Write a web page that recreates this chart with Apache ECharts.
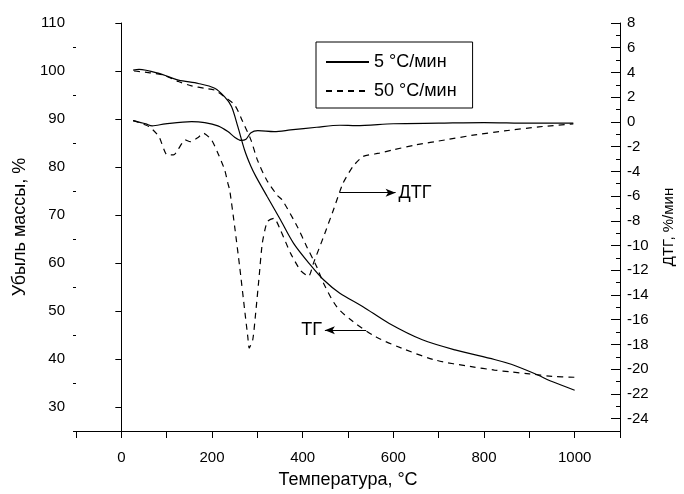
<!DOCTYPE html>
<html><head><meta charset="utf-8">
<script src="https://cdn.jsdelivr.net/npm/echarts@6/dist/echarts.min.js"></script>
<style>html,body{margin:0;padding:0;background:#fff}#c{width:684px;height:494px}</style>
</head><body><div id="c"></div>
<script>
const names = ['5 °C/мин', '50 °C/мин'];
const tg5 = [[26,100.2],[39,100.35],[83,99.5],[126,98.1],[170,97.4],[206,96.4],[228,94.6],[243,92.6],[257,88.4],[272,83.5],[286,80.1],[297,78],[322,73.8],[351,69],[380,64.1],[417,59.6],[446,56.5],[482,53.7],[533,50.9],[591,47.4],[664,44],[736,41.9],[823,39.9],[860,38.9],[890,37.8],[920,36.6],[950,35.3],[1000,33.5]];
const tg50 = [[28,100],[90,99.2],[126,97.8],[155,96.9],[184,96.4],[206,96],[228,94.6],[250,92.9],[268,89.4],[286,85.6],[300,81.5],[320,77.4],[344,74.1],[355,73.1],[388,67.6],[409,63.4],[431,59.2],[446,55.8],[475,50.9],[511,47.8],[562,44.6],[620,42.2],[692,39.8],[772,38.4],[823,37.7],[860,37.3],[900,36.9],[950,36.4],[1000,36.2]];
const dtg5 = [[26,0.1],[54,-0.16],[68,-0.32],[97,-0.16],[155,0.02],[184,-0.06],[213,-0.32],[235,-0.78],[250,-1.24],[264,-1.5],[275,-1.4],[286,-0.87],[301,-0.7],[337,-0.78],[373,-0.65],[431,-0.43],[482,-0.27],[518,-0.3],[600,-0.15],[700,-0.1],[800,-0.05],[900,-0.1],[997,-0.1]];
const dtg50 = [[26,0.1],[61,-0.38],[83,-1.19],[101,-2.67],[115,-2.67],[141,-1.46],[152,-1.6],[170,-1.24],[181,-0.91],[199,-1.46],[213,-2.53],[228,-3.88],[235,-4.96],[239,-5.5],[250,-8.47],[261,-11.7],[272,-15.2],[279,-17.4],[282,-18.3],[290,-17.6],[297,-15.2],[304,-12.5],[311,-9.8],[322,-8.07],[337,-7.8],[351,-8.74],[373,-10.6],[395,-12],[413,-12.5],[424,-11.4],[446,-9.3],[468,-7.1],[489,-4.96],[511,-3.6],[533,-2.8],[569,-2.53],[598,-2.27],[649,-1.86],[714,-1.46],[780,-1.05],[845,-0.73],[921,-0.4],[997,-0.16]];
const xLabels = [0,200,400,600,800,1000];
const leftLabels = [30,40,50,60,70,80,90,100,110];
const rightLabels = [-24,-22,-20,-18,-16,-14,-12,-10,-8,-6,-4,-2,0,2,4,6,8];
const leftMinor = [25,35,45,55,65,75,85,95,105];
const rightMinor = [-25,-23,-21,-19,-17,-15,-13,-11,-9,-7,-5,-3,-1,1,3,5,7];
const dtgArrow = [[481,-5.72],[605,-5.72]];
const tgArrow = [[540,46.0],[449,46.0]];

const F = 'Liberation Sans, Arial, sans-serif';
const black = '#000';
const solid = {color: black, width: 1.2, type: 'solid'};
const dashed = {color: black, width: 1.2, type: [6,5]};
const chart = echarts.init(document.getElementById('c'), null, {renderer: 'canvas'});
function arrowLine(pts, label) {
  return {
    silent: true, symbol: ['none', 'arrow'], symbolSize: [6, 10],
    lineStyle: {color: black, width: 1, type: 'solid'},
    label: {show: true, position: 'end', formatter: label, color: black, fontFamily: F, fontSize: 18, distance: 3},
    data: [[{coord: pts[0]}, {coord: pts[1]}]]
  };
}
chart.setOption({
  animation: false,
  backgroundColor: '#fff',
  grid: {left: 76, right: 55, top: 23, bottom: 63},
  legend: {
    data: names, orient: 'vertical', left: 316, top: 42,
    padding: [11, 16, 8, 9], itemGap: 11, itemWidth: 43, itemHeight: 14,
    borderColor: black, borderWidth: 1, borderRadius: 0,
    itemStyle: {color: 'transparent', borderWidth: 0, opacity: 0},
    textStyle: {color: black, fontFamily: F, fontSize: 18}
  },
  xAxis: {
    type: 'value', min: -100, max: 1100, interval: 100,
    name: 'Температура, °C', nameLocation: 'middle', nameGap: 40,
    nameTextStyle: {color: black, fontFamily: F, fontSize: 18},
    axisLine: {onZero: false, lineStyle: {color: black, width: 1}},
    axisTick: {length: 7, lineStyle: {color: black}},
    axisLabel: {color: black, fontFamily: F, fontSize: 15, margin: 19,
      formatter: v => xLabels.includes(v) ? String(v) : ''},
    splitLine: {show: false}
  },
  yAxis: [
    {type: 'value', position: 'left', min: 25, max: 110, interval: 5,
     name: 'Убыль массы, %', nameLocation: 'middle', nameGap: 47, nameRotate: 90,
     nameTextStyle: {color: black, fontFamily: F, fontSize: 18},
     axisLine: {show: true, lineStyle: {color: black, width: 1}},
     axisTick: {show: true, length: 6, customValues: leftLabels, lineStyle: {color: black}},
     axisLabel: {color: black, fontFamily: F, fontSize: 15, margin: 11, customValues: leftLabels},
     splitLine: {show: false}},
    {type: 'value', position: 'right', min: -25, max: 8, interval: 1,
     name: 'ДТГ, %/мин', nameLocation: 'middle', nameGap: 41, nameRotate: 90,
     nameTextStyle: {color: black, fontFamily: F, fontSize: 15},
     axisLine: {show: true, lineStyle: {color: black, width: 1}},
     axisTick: {show: true, inside: true, length: 9, customValues: rightLabels, lineStyle: {color: black}},
     axisLabel: {color: black, fontFamily: F, fontSize: 15, margin: 7, customValues: rightLabels},
     splitLine: {show: false}},
    {type: 'value', position: 'left', min: 25, max: 110, interval: 5,
     axisLine: {show: false},
     axisTick: {show: true, length: 3, customValues: leftMinor, lineStyle: {color: black}},
     axisLabel: {show: false}, splitLine: {show: false}},
    {type: 'value', position: 'right', min: -25, max: 8, interval: 1,
     axisLine: {show: false},
     axisTick: {show: true, inside: true, length: 4, customValues: rightMinor, lineStyle: {color: black}},
     axisLabel: {show: false}, splitLine: {show: false}}
  ],
  series: [
    {name: names[0], type: 'line', yAxisIndex: 0, data: tg5, symbol: 'none', smooth: 0.3, lineStyle: solid, itemStyle: {color: black}},
    {name: names[1], type: 'line', yAxisIndex: 0, data: tg50, symbol: 'none', smooth: 0.3, lineStyle: dashed, itemStyle: {color: black},
     markLine: arrowLine(tgArrow, 'ТГ')},
    {name: names[0], type: 'line', yAxisIndex: 1, data: dtg5, symbol: 'none', smooth: 0.3, lineStyle: solid, itemStyle: {color: black}},
    {name: names[1], type: 'line', yAxisIndex: 1, data: dtg50, symbol: 'none', smooth: 0.2, lineStyle: dashed, itemStyle: {color: black},
     markLine: arrowLine(dtgArrow, 'ДТГ')}
  ]
});
</script></body></html>
